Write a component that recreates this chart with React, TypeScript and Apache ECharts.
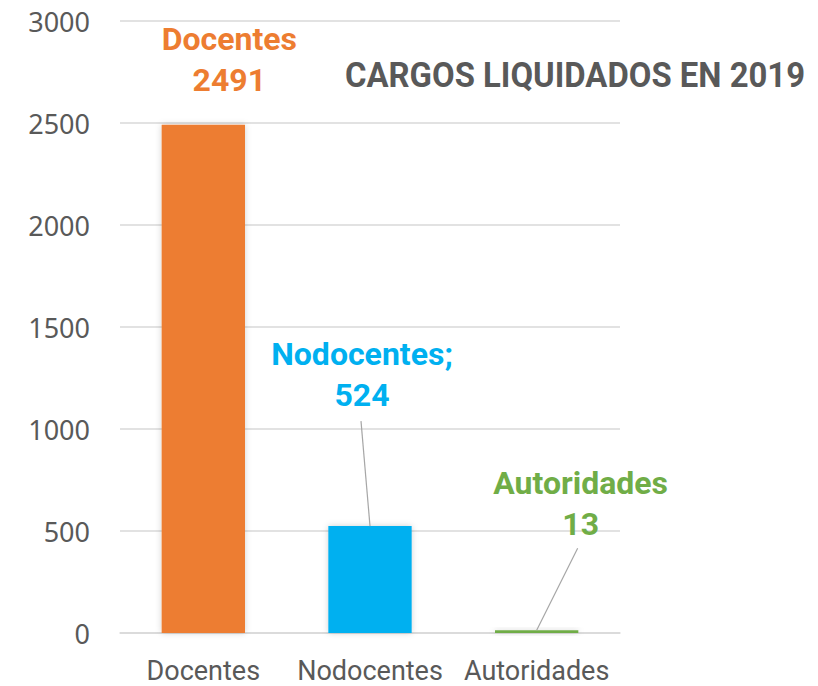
import React, { useEffect, useRef } from "react";
import * as echarts from "echarts";

const categories = ["Docentes", "Nodocentes", "Autoridades"];
const values = [2491, 524, 13];
const labelNames = ["Docentes", "Nodocentes;", "Autoridades"];
const colors = ["#ED7D31", "#00B0F0", "#70AD47"];
const yTicks = { min: 0, max: 3000, interval: 500 };
const titleText = "CARGOS LIQUIDADOS EN 2019";

const labelShift = [
  { dx: 26, dy: -19 },
  { dx: -8, dy: -106 },
  { dx: 44, dy: -81 },
];
// leader line end offsets (pixels) from bar top centre, null = no leader line
const leaderOffsets: ([number, number] | null)[] = [null, [-9, -105], [41, -82]];

export default function App() {
  const ref = useRef<HTMLDivElement>(null);
  useEffect(() => {
    if (!ref.current) return;
    const chart = echarts.init(ref.current, null, { renderer: "svg" });
    chart.setOption({
      animation: false,
      grid: { left: 120, right: 198, top: 21, bottom: 53 },
      graphic: [
        {
          type: "text",
          x: 345,
          y: 58,
          scaleX: 0.939,
          style: {
            text: titleText,
            fontFamily: "Roboto",
            fontWeight: "bold",
            fontSize: 35,
            fill: "#595959",
            textVerticalAlign: "top",
          },
        },
      ],
      xAxis: {
        type: "category",
        data: categories,
        axisLine: { lineStyle: { color: "#D9D9D9", width: 1.5 } },
        axisTick: { show: false },
        axisLabel: {
          color: "#595959",
          fontFamily: "Roboto",
          fontSize: 27,
          margin: 24,
          interval: 0,
        },
      },
      yAxis: {
        type: "value",
        min: yTicks.min,
        max: yTicks.max,
        interval: yTicks.interval,
        axisLine: { show: false },
        axisTick: { show: false },
        splitLine: { lineStyle: { color: "#D9D9D9", width: 1.5 } },
        axisLabel: {
          color: "#595959",
          fontFamily: "Noto Sans",
          fontSize: 27,
          margin: 30,
          formatter: (v: number) => String(v),
        },
      },
      series: [
        {
          type: "bar",
          barWidth: "50%",
          data: values.map((v, i) => ({
            value: v,
            itemStyle: {
              color: colors[i],
              shadowBlur: 6,
              shadowColor: "rgba(0,0,0,0.18)",
            },
            label: {
              color: colors[i],
              formatter: labelNames[i] + "\n" + v,
            },
          })),
          label: {
            show: true,
            position: "top",
            fontFamily: "Roboto",
            fontWeight: "bold",
            fontSize: 32,
            lineHeight: 41,
            align: "center",
          },
          labelLayout: (p: any) => ({
            dx: labelShift[p.dataIndex].dx,
            dy: labelShift[p.dataIndex].dy,
          }),
        },
        {
          type: "custom",
          silent: true,
          z: 5,
          data: values.map((v, i) => [i, v]),
          renderItem: (params: any, api: any) => {
            const off = leaderOffsets[params.dataIndex];
            if (!off) return null;
            const p = api.coord([api.value(0), api.value(1)]);
            return {
              type: "line",
              shape: { x1: p[0], y1: p[1], x2: p[0] + off[0], y2: p[1] + off[1] },
              style: { stroke: "#A6A6A6", lineWidth: 1.2 },
            };
          },
        },
      ],
    });
    return () => chart.dispose();
  }, []);
  return (
    <div
      ref={ref}
      style={{ position: "absolute", left: 0, top: 0, width: 818, height: 686 }}
    />
  );
}
